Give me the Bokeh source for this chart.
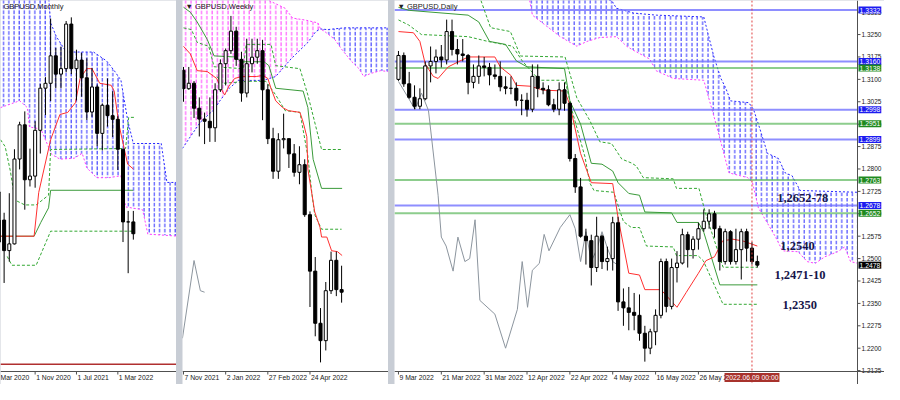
from bokeh.plotting import figure
from bokeh.models import Range1d, Label, Span
from bokeh.layouts import row
from bokeh.embed import file_html
from bokeh.resources import INLINE
from bokeh.core.properties import value

# ======================= DATA =======================
# ---- Monthly GBPUSD (index 0 = Mar 2020 ... 27 = Jun 2022)
m_open = [1.2820, 1.2410, 1.2590, 1.2340, 1.2395, 1.3090, 1.3370, 1.2920, 1.2950, 1.3325,
          1.3670, 1.3710, 1.3935, 1.3785, 1.3830, 1.4195, 1.3830, 1.3900, 1.3755, 1.3475,
          1.3680, 1.3300, 1.3530, 1.3445, 1.3415, 1.3170, 1.2575, 1.2575]
m_high = [1.3200, 1.2650, 1.2650, 1.2810, 1.3170, 1.3395, 1.3480, 1.3175, 1.3400, 1.3705,
          1.3760, 1.4240, 1.4000, 1.4010, 1.4220, 1.4250, 1.3985, 1.3960, 1.3915, 1.3835,
          1.3700, 1.3545, 1.3750, 1.3645, 1.3440, 1.3165, 1.2665, 1.2665]
m_low = [1.1410, 1.2165, 1.2075, 1.2250, 1.2390, 1.3005, 1.2675, 1.2865, 1.2855, 1.3135,
         1.3450, 1.3565, 1.3670, 1.3670, 1.3800, 1.3785, 1.3570, 1.3600, 1.3410, 1.3435,
         1.3195, 1.3160, 1.3355, 1.3270, 1.3000, 1.2410, 1.2155, 1.2430]
m_close = [1.2410, 1.2590, 1.2340, 1.2395, 1.3090, 1.3370, 1.2920, 1.2950, 1.3325, 1.3670,
           1.3710, 1.3935, 1.3785, 1.3830, 1.4195, 1.3830, 1.3900, 1.3755, 1.3475, 1.3680,
           1.3300, 1.3530, 1.3445, 1.3415, 1.3170, 1.2575, 1.2575, 1.2478]
m_ticks = [8, 16, 24]
m_tick_labels = ["1 Nov 2020", "1 Jul 2021", "1 Mar 2022"]
m_edge_label = "Mar 2020"
m_tenkan_x = [1.3, 7.8, 8.7, 11, 12.8, 14.3, 15.8, 16.7, 18, 19, 20.5, 22.7, 23.3, 24.2, 25.9, 27]
m_tenkan_y = [1.2458, 1.2458, 1.2817, 1.3248, 1.3455, 1.3471, 1.3551, 1.3750, 1.3830, 1.3830,
              1.3710, 1.3694, 1.3646, 1.3375, 1.3048, 1.3008]
m_kijun_x = [1.3, 7.8, 9.1, 10.6, 11, 25.2, 27]
m_kijun_y = [1.2458, 1.2458, 1.2571, 1.2690, 1.2834, 1.2834, 1.2834]
m_dash1_x = [1.3, 2.2, 3.2, 4.1, 6, 8.2, 10.6, 11, 25.5, 26.1, 27.3]
m_dash1_y = [1.3248, 1.3192, 1.2993, 1.2754, 1.2714, 1.2714, 1.2794, 1.3168, 1.3176, 1.3431, 1.3431]
m_dash2_x = [2.6, 3.5, 8.2, 11, 25.9, 27]
m_dash2_y = [1.2292, 1.2220, 1.2220, 1.2499, 1.2499, 1.2499]
m_spanA_x = [1.3, 10.6, 11, 12.1, 14, 19.3, 21.8, 23.3, 24.6, 25.9, 27, 32.4, 33.5, 35.35]
m_spanA_y = [1.4428, 1.4428, 1.4205, 1.4093, 1.3966, 1.3966, 1.3894, 1.3814, 1.3735, 1.3408,
             1.3217, 1.3217, 1.2898, 1.2898]
m_spanB_x = [1.3, 5, 6.5, 6.9, 9.1, 11.2, 12.8, 15.6, 17.1, 18, 19.9, 22.3, 24.6, 25.5, 28.8, 29.8, 35.35]
m_spanB_y = [1.3511, 1.3567, 1.3511, 1.3352, 1.3336, 1.3128, 1.3089, 1.3097, 1.3137, 1.3017,
             1.2937, 1.2937, 1.2953, 1.2698, 1.2674, 1.2475, 1.2459]
m_support = 1.1410

# ---- Weekly GBPUSD (index 0 = week of 7 Nov 2021 ... 30 = week of 5 Jun 2022)
w_open = [1.3500, 1.3415, 1.3440, 1.3325, 1.3275, 1.3265, 1.3235, 1.3410, 1.3530, 1.3590,
          1.3680, 1.3550, 1.3395, 1.3530, 1.3560, 1.3590, 1.3410, 1.3185, 1.3035, 1.3180,
          1.3185, 1.3115, 1.3030, 1.3065, 1.2835, 1.2575, 1.2335, 1.2255, 1.2485, 1.2625, 1.2490]
w_high = [1.3515, 1.3515, 1.3450, 1.3375, 1.3305, 1.3375, 1.3440, 1.3550, 1.3600, 1.3750,
          1.3700, 1.3585, 1.3645, 1.3645, 1.3645, 1.3640, 1.3435, 1.3235, 1.3210, 1.3300,
          1.3185, 1.3160, 1.3150, 1.3090, 1.2850, 1.2640, 1.2405, 1.2525, 1.2665, 1.2665, 1.2600]
w_low = [1.3355, 1.3410, 1.3280, 1.3195, 1.3160, 1.3170, 1.3170, 1.3400, 1.3430, 1.3575,
         1.3520, 1.3355, 1.3375, 1.3490, 1.3530, 1.3270, 1.3160, 1.3000, 1.3000, 1.3140,
         1.3050, 1.3010, 1.2975, 1.2825, 1.2410, 1.2275, 1.2155, 1.2210, 1.2470, 1.2460, 1.2430]
w_close = [1.3415, 1.3440, 1.3325, 1.3275, 1.3265, 1.3235, 1.3410, 1.3530, 1.3590, 1.3680,
           1.3550, 1.3395, 1.3530, 1.3560, 1.3590, 1.3410, 1.3185, 1.3035, 1.3180, 1.3185,
           1.3115, 1.3030, 1.3065, 1.2835, 1.2575, 1.2335, 1.2255, 1.2485, 1.2625, 1.2490, 1.2478]
w_ticks = [0, 8, 16, 24]
w_tick_labels = ["7 Nov 2021", "2 Jan 2022", "27 Feb 2022", "24 Apr 2022"]
w_tenkan_x = [0, 1.3, 2.6, 4.5, 6.3, 7.3, 7.8, 8.6, 9.7, 11, 13.8, 15.1, 16, 16.6, 17.5, 18.8,
              19.9, 22.1, 22.7, 23.4, 23.6, 24.4, 24.9, 25.9, 26.2, 27.2, 28.1, 29.2, 30.1]
w_tenkan_y = [1.3610, 1.3575, 1.3498, 1.3494, 1.3462, 1.3408, 1.3386, 1.3426, 1.3462, 1.3471,
              1.3471, 1.3476, 1.3462, 1.3417, 1.3359, 1.3328, 1.3314, 1.3306, 1.3261, 1.3194,
              1.3045, 1.2925, 1.2848, 1.2777, 1.2732, 1.2732, 1.2669, 1.2665, 1.2647]
w_kijun_x = [0, 1.3, 2.6, 4.5, 5.8, 9.7, 11, 15.3, 16.2, 17.5, 22.7, 23.6, 24.6, 26.2, 30.1]
w_kijun_y = [1.3790, 1.3767, 1.3722, 1.3642, 1.3566, 1.3561, 1.3539, 1.3539, 1.3521, 1.3417,
             1.3404, 1.3328, 1.3090, 1.2956, 1.2956]
w_dash1_x = [0, 1.5, 2.6, 4.8, 5.8, 11.3, 11.9, 16.6, 17.5, 22.1, 23.6, 26.2, 30.1]
w_dash1_y = [1.3695, 1.3687, 1.3628, 1.3610, 1.3516, 1.3507, 1.3619, 1.3619, 1.3521, 1.3507,
             1.3386, 1.3135, 1.3135]
w_dash2_x = [6.3, 7.6, 12.3, 15.6, 16.6, 17.5, 19.3, 22.1, 23.6, 24.4, 24.9, 26.2, 30]
w_dash2_y = [1.3471, 1.3440, 1.3449, 1.3449, 1.3417, 1.3386, 1.3314, 1.3306, 1.3104, 1.2925,
             1.2835, 1.2768, 1.2768]
w_chikou_x = [-0.2, 2, 3.2, 4]
w_chikou_y = [1.2266, 1.2624, 1.2485, 1.2478]
w_spanA_x = [-0.2, 1.3, 3.2, 5.8, 6.9, 8.7, 10.4, 15.1, 17.5, 20.4, 23.6, 25.1, 26.0, 27.3, 30.5, 38.9]
w_spanA_y = [1.3140, 1.3194, 1.3261, 1.3319, 1.3359, 1.3417, 1.3453, 1.3453, 1.3471, 1.3552,
             1.3628, 1.3678, 1.3690, 1.3687, 1.3695, 1.3695]
w_spanB_x = [-0.2, 16.0, 16.2, 19.3, 20.7, 23.1, 25.5, 26.0, 26.8, 28.7, 30, 31.8, 33.3, 34.2, 35.5, 37.4, 38.9]
w_spanB_y = [1.3850, 1.3850, 1.3821, 1.3785, 1.3740, 1.3731, 1.3718, 1.3690, 1.3678, 1.3642,
             1.3597, 1.3543, 1.3507, 1.3471, 1.3485, 1.3498, 1.3494]
w_cross_A = 12   # position in spanA where the two spans cross
w_cross_B = 7    # position in spanB where the two spans cross

# ---- Daily GBPUSD (index 0 = 9 Mar 2022 ... 67 = 10 Jun 2022)
d_open = [1.3100, 1.3180, 1.3085, 1.3040, 1.3010, 1.3035, 1.3145, 1.3160, 1.3175, 1.3165,
          1.3260, 1.3200, 1.3185, 1.3180, 1.3090, 1.3110, 1.3145, 1.3140, 1.3115, 1.3110,
          1.3075, 1.3070, 1.3070, 1.3030, 1.3030, 1.3000, 1.3110, 1.3070, 1.3065, 1.3015,
          1.3000, 1.3065, 1.3020, 1.2835, 1.2740, 1.2575, 1.2560, 1.2470, 1.2575, 1.2490,
          1.2500, 1.2620, 1.2355, 1.2335, 1.2320, 1.2310, 1.2250, 1.2200, 1.2255, 1.2310,
          1.2490, 1.2340, 1.2470, 1.2485, 1.2580, 1.2530, 1.2565, 1.2600, 1.2625, 1.2650,
          1.2600, 1.2490, 1.2590, 1.2490, 1.2530, 1.2590, 1.2535, 1.2490]
d_high = [1.3195, 1.3190, 1.3125, 1.3080, 1.3070, 1.3160, 1.3210, 1.3200, 1.3215, 1.3300,
          1.3300, 1.3235, 1.3235, 1.3185, 1.3150, 1.3180, 1.3175, 1.3155, 1.3150, 1.3160,
          1.3110, 1.3110, 1.3090, 1.3050, 1.3055, 1.3150, 1.3150, 1.3090, 1.3080, 1.3035,
          1.3090, 1.3090, 1.3025, 1.2850, 1.2770, 1.2600, 1.2580, 1.2640, 1.2580, 1.2540,
          1.2640, 1.2640, 1.2400, 1.2405, 1.2385, 1.2380, 1.2275, 1.2265, 1.2330, 1.2500,
          1.2500, 1.2500, 1.2525, 1.2600, 1.2590, 1.2575, 1.2620, 1.2665, 1.2665, 1.2660,
          1.2610, 1.2600, 1.2595, 1.2600, 1.2600, 1.2600, 1.2555, 1.2510]
d_low = [1.3095, 1.3075, 1.3035, 1.3000, 1.3000, 1.3030, 1.3090, 1.3120, 1.3140, 1.3150,
         1.3180, 1.3150, 1.3160, 1.3050, 1.3070, 1.3085, 1.3110, 1.3080, 1.3100, 1.3060,
         1.3050, 1.3050, 1.3010, 1.2980, 1.2975, 1.2990, 1.3040, 1.3050, 1.3010, 1.2990,
         1.2980, 1.2995, 1.2825, 1.2720, 1.2570, 1.2480, 1.2410, 1.2455, 1.2465, 1.2460,
         1.2460, 1.2325, 1.2275, 1.2260, 1.2260, 1.2225, 1.2155, 1.2180, 1.2210, 1.2300,
         1.2320, 1.2330, 1.2420, 1.2480, 1.2470, 1.2500, 1.2530, 1.2590, 1.2600, 1.2570,
         1.2460, 1.2480, 1.2480, 1.2480, 1.2430, 1.2490, 1.2480, 1.2470]
d_close = [1.3180, 1.3085, 1.3040, 1.3010, 1.3035, 1.3145, 1.3160, 1.3175, 1.3165, 1.3260,
           1.3200, 1.3185, 1.3180, 1.3090, 1.3110, 1.3145, 1.3140, 1.3115, 1.3110, 1.3075,
           1.3070, 1.3070, 1.3030, 1.3030, 1.3000, 1.3110, 1.3070, 1.3065, 1.3015, 1.3000,
           1.3065, 1.3020, 1.2835, 1.2740, 1.2575, 1.2560, 1.2470, 1.2575, 1.2490, 1.2500,
           1.2620, 1.2355, 1.2335, 1.2320, 1.2310, 1.2250, 1.2200, 1.2255, 1.2310, 1.2490,
           1.2340, 1.2470, 1.2485, 1.2580, 1.2530, 1.2565, 1.2600, 1.2625, 1.2650, 1.2600,
           1.2490, 1.2590, 1.2490, 1.2530, 1.2590, 1.2535, 1.2490, 1.2478]
d_ticks = [0, 8, 16, 24, 32, 40, 48, 56]
d_tick_labels = ["9 Mar 2022", "21 Mar 2022", "31 Mar 2022", "12 Apr 2022",
                 "22 Apr 2022", "4 May 2022", "16 May 2022", "26 May 2022"]
d_cursor = 66
d_cursor_label = "2022.06.09 00:00"
d_price_ticks = [1.2125, 1.2200, 1.2275, 1.2350, 1.2425, 1.2500, 1.2575, 1.2650, 1.2725,
                 1.2800, 1.2875, 1.2950, 1.3025, 1.3100, 1.3175, 1.3250, 1.3325]
d_tenkan_x = [0, 2.8, 4, 5, 6.5, 7.4, 9.3, 13, 18, 19, 21, 22, 24.6, 27, 31, 32, 34, 36, 40, 41,
              43, 45, 46, 49, 52, 53.7, 56, 57.4, 59, 60.5, 62.4, 64.3, 67]
d_tenkan_y = [1.3260, 1.3256, 1.3227, 1.3152, 1.3110, 1.3103, 1.3142, 1.3175, 1.3175, 1.3142,
              1.3113, 1.3080, 1.3077, 1.3064, 1.3061, 1.3015, 1.2852, 1.2754, 1.2751, 1.2637,
              1.2451, 1.2445, 1.2396, 1.2396, 1.2337, 1.2386, 1.2451, 1.2493, 1.2506, 1.2559,
              1.2565, 1.2559, 1.2542]
d_kijun_x = [0, 2, 13, 15, 17, 20, 22, 24, 31, 32, 34, 36, 38, 40, 41, 43, 45, 46, 51, 52, 56, 57, 60, 67]
d_kijun_y = [1.3341, 1.3331, 1.3315, 1.3292, 1.3227, 1.3217, 1.3162, 1.3142, 1.3136, 1.3028,
             1.2950, 1.2819, 1.2816, 1.2793, 1.2754, 1.2718, 1.2712, 1.2656, 1.2653, 1.2621,
             1.2621, 1.2588, 1.2412, 1.2412]
d_dash1_x = [15.4, 17.2, 20.9, 22.8, 31.1, 33.3, 35.7, 37.6, 39.8, 41.7, 43.5, 44.4, 45.7,
             51.3, 51.9, 56.1, 57.4, 59.8, 60.6, 67]
d_dash1_y = [1.3364, 1.3273, 1.3260, 1.3178, 1.3175, 1.3038, 1.2963, 1.2891, 1.2885, 1.2833,
             1.2820, 1.2810, 1.2771, 1.2767, 1.2735, 1.2735, 1.2647, 1.2516, 1.2471, 1.2471]
d_dash2_x = [0, 1.9, 4.3, 13, 16.7, 21.3, 23.1, 26.3, 31.1, 32.4, 34.8, 35.7, 36.5, 40.2, 42,
             43.5, 45, 46.3, 51.3, 51.9, 55.9, 56.9, 60.6, 67]
d_dash2_y = [1.3299, 1.3282, 1.3250, 1.3243, 1.3227, 1.3211, 1.3162, 1.3097, 1.3097, 1.2996,
             1.2842, 1.2754, 1.2728, 1.2722, 1.2624, 1.2604, 1.2604, 1.2542, 1.2539, 1.2510,
             1.2510, 1.2493, 1.2347, 1.2347]
d_chikou_x = [0, 1.85, 3.1, 4.3, 5.6, 7.4, 8, 8.9, 10.2, 11.1, 12.4, 13.3, 14.3, 15.2, 18, 20,
              22.2, 23.1, 24.1, 25, 26.3, 27.2, 28.1, 30.2, 32, 33, 34, 35, 36, 37, 38, 39, 40, 41]
d_chikou_y = [1.3093, 1.3038, 1.2999, 1.3054, 1.2996, 1.2712, 1.2572, 1.2542, 1.2458, 1.2572,
              1.2490, 1.2500, 1.2630, 1.2360, 1.2314, 1.2200, 1.2330, 1.2490, 1.2337, 1.2461,
              1.2484, 1.2581, 1.2526, 1.2604, 1.2647, 1.2600, 1.2490, 1.2590, 1.2490, 1.2530,
              1.2590, 1.2535, 1.2490, 1.2478]
d_spanA_x = [24.5, 39.8, 40.7, 43.9, 48.1, 57, 58.9, 60.2, 61.1, 62, 65.4, 66.3, 67.2, 68.9,
             70.9, 72.2, 73.5, 75, 85.7]
d_spanA_y = [1.3400, 1.3364, 1.3338, 1.3322, 1.3315, 1.3309, 1.3175, 1.3103, 1.3071, 1.3028,
             1.3022, 1.2999, 1.2950, 1.2852, 1.2836, 1.2787, 1.2777, 1.2728, 1.2722]
d_spanB_x = [24.5, 25, 30.2, 33.3, 35.2, 37.6, 40.7, 42.6, 43.5, 46.9, 48.1, 51.3, 57, 59.3,
             61.7, 65.2, 66.1, 67.2, 70.4, 71.7, 74.6, 76.3, 77.8, 79.6, 82, 83.3, 84.4, 85.7]
d_spanB_y = [1.3364, 1.3315, 1.3243, 1.3211, 1.3227, 1.3240, 1.3243, 1.3211, 1.3201, 1.3168,
             1.3129, 1.3103, 1.3097, 1.2950, 1.2787, 1.2771, 1.2754, 1.2670, 1.2572, 1.2526,
             1.2523, 1.2490, 1.2484, 1.2506, 1.2523, 1.2539, 1.2490, 1.2484]
d_levels_blue = [1.3332, 1.3160, 1.2998, 1.2899, 1.2678]
d_levels_green = [1.3138, 1.2951, 1.2763, 1.2652]
d_last_price = 1.2478
d_notes = ["1,2652-78", "1,2540", "1,2471-10", "1,2350"]
d_notes_x = [70.7, 71.3, 70.2, 71.7]
d_notes_y = [1.2702, 1.2542, 1.2445, 1.2343]

# ======================= STYLE / LAYOUT =======================
FONT = "Liberation Sans"
RED = "#ff3030"
KIJUN = "#3a9a3a"
DASH = "#33a833"
BLUE = "#2828ff"
PINK = "#ff3cff"
GRAY = "#8c959e"
AXIS = "#505050"
H = 384          # figure height (px)
PLOT_H = 371     # px from top to the bottom axis line


def make_panel(width, x_left, x_axis_pos, axis_px, y_top, y_axis):
    """Figure whose frame is the whole canvas; axes are drawn by hand inside it."""
    xpp = (x_axis_pos - x_left) / (width - axis_px)
    ypp = (y_top - y_axis) / PLOT_H
    xr = (x_left, x_left + width * xpp)
    yr = (y_axis - (H - PLOT_H) * ypp, y_top)
    p = figure(width=width, height=H, x_range=Range1d(*xr), y_range=Range1d(*yr),
               output_backend="svg", toolbar_location=None,
               x_axis_location=None, y_axis_location=None, min_border=0)
    p.grid.visible = False
    p.outline_line_color = None
    p.background_fill_color = "white"
    p.border_fill_color = "white"
    return p, xpp, ypp


def bottom_axis(p, y_axis, ypp, ticks, labels):
    n = len(ticks)
    p.add_layout(Span(location=y_axis, dimension="width", line_color=AXIS, line_width=1))
    p.segment(x0=ticks, x1=ticks, y0=[y_axis] * n, y1=[y_axis - 3 * ypp] * n,
              line_color=AXIS, line_width=1)
    p.text(x=ticks, y=[y_axis - 2 * ypp] * n, text=labels, x_offset=1,
           text_font=value(FONT), text_font_size=value("6.8px"), text_color="#202020",
           text_baseline=value("top"), text_align=value("left"))


def candles(p, o, h, l, c, w=0.58):
    x = list(range(len(o)))
    p.segment(x0=x, y0=l, x1=x, y1=h, line_color="black", line_width=1)
    up = [i for i in x if c[i] >= o[i]]
    dn = [i for i in x if c[i] < o[i]]
    p.vbar(x=up, bottom=[o[i] for i in up], top=[c[i] for i in up], width=w,
           fill_color="white", line_color="black", line_width=1)
    p.vbar(x=dn, bottom=[c[i] for i in dn], top=[o[i] for i in dn], width=w,
           fill_color="black", line_color="black", line_width=1)


def cloud(p, tx, ty, bx, by, color, scale):
    xs = list(tx) + list(bx)[::-1]
    ys = list(ty) + list(by)[::-1]
    p.patch(xs, ys, fill_color=None, line_color=None, hatch_pattern="vertical_dash",
            hatch_color=color, hatch_scale=scale, hatch_weight=1)


def ichimoku_lines(p, tenkan, kijun, dash1, dash2):
    p.line(dash1[0], dash1[1], line_color=DASH, line_width=1, line_dash="3 2")
    p.line(dash2[0], dash2[1], line_color=DASH, line_width=1, line_dash="3 2")
    p.line(kijun[0], kijun[1], line_color=KIJUN, line_width=1)
    p.line(tenkan[0], tenkan[1], line_color=RED, line_width=1)


def title(p, x, y, text):
    p.add_layout(Label(x=x, y=y, x_offset=3, y_offset=-1, text=text,
                       text_font=FONT, text_font_size="7.5px", text_color="#202020",
                       text_baseline="top", text_align="left"))


# ======================= MONTHLY =======================
m_top, m_axis = 1.4388, 1.1350
m_left = 1.3
fm, m_xpp, m_ypp = make_panel(176, m_left, 35.35, 0, m_top, m_axis)
cloud(fm, m_spanA_x, m_spanA_y, m_spanB_x, m_spanB_y, BLUE, 5.2)
fm.line(m_spanA_x, m_spanA_y, line_color=BLUE, line_dash="2 2", line_width=1)
fm.line(m_spanB_x, m_spanB_y, line_color=PINK, line_dash="2 2", line_width=1)
ichimoku_lines(fm, (m_tenkan_x, m_tenkan_y), (m_kijun_x, m_kijun_y),
               (m_dash1_x, m_dash1_y), (m_dash2_x, m_dash2_y))
fm.add_layout(Span(location=m_support, dimension="width", line_color="#b03030", line_width=1.5))
candles(fm, m_open, m_high, m_low, m_close)
bottom_axis(fm, m_axis, m_ypp, m_ticks, m_tick_labels)
fm.text(x=[m_left], y=[m_axis - 2 * m_ypp], text=[m_edge_label], x_offset=0,
        text_font=value(FONT), text_font_size=value("6.8px"), text_color="#202020",
        text_baseline=value("top"), text_align=value("left"))
title(fm, m_left, m_top, "GBPUSD,Monthly")

# ======================= WEEKLY =======================
w_top, w_axis = 1.3821, 1.2113
fw, w_xpp, w_ypp = make_panel(206, -0.19, 38.9, 0, w_top, w_axis)
cloud(fw, w_spanB_x[:w_cross_B + 1], w_spanB_y[:w_cross_B + 1],
      w_spanA_x[:w_cross_A + 1], w_spanA_y[:w_cross_A + 1], PINK, 5.3)
cloud(fw, w_spanA_x[w_cross_A:], w_spanA_y[w_cross_A:],
      w_spanB_x[w_cross_B:], w_spanB_y[w_cross_B:], BLUE, 5.3)
fw.line(w_spanA_x, w_spanA_y, line_color=BLUE, line_dash="2 2", line_width=1)
fw.line(w_spanB_x, w_spanB_y, line_color=PINK, line_dash="2 2", line_width=1)
fw.line(w_chikou_x, w_chikou_y, line_color=GRAY, line_width=1)
ichimoku_lines(fw, (w_tenkan_x, w_tenkan_y), (w_kijun_x, w_kijun_y),
               (w_dash1_x, w_dash1_y), (w_dash2_x, w_dash2_y))
candles(fw, w_open, w_high, w_low, w_close)
bottom_axis(fw, w_axis, w_ypp, w_ticks, w_tick_labels)
title(fw, -0.19, w_top, "\u25bc GBPUSD,Weekly")

# ======================= DAILY =======================
d_top, d_axis = 1.3364, 1.2122
d_left, d_right = -0.74, 85.7
fd, d_xpp, d_ypp = make_panel(490, d_left, d_right, 27, d_top, d_axis)

cloud(fd, d_spanA_x, d_spanA_y, d_spanB_x, d_spanB_y, BLUE, 5.35)
fd.line(d_spanA_x, d_spanA_y, line_color=BLUE, line_dash="2 2", line_width=1)
fd.line(d_spanB_x, d_spanB_y, line_color=PINK, line_dash="2 2", line_width=1)
nb, ng = len(d_levels_blue), len(d_levels_green)
fd.segment(x0=[d_left] * nb, x1=[d_right] * nb, y0=d_levels_blue, y1=d_levels_blue,
           line_color="#7272ff", line_width=2, line_alpha=0.8)
fd.segment(x0=[d_left] * ng, x1=[d_right] * ng, y0=d_levels_green, y1=d_levels_green,
           line_color="#5cb85c", line_width=2, line_alpha=0.7)
fd.line(d_chikou_x, d_chikou_y, line_color=GRAY, line_width=1)
ichimoku_lines(fd, (d_tenkan_x, d_tenkan_y), (d_kijun_x, d_kijun_y),
               (d_dash1_x, d_dash1_y), (d_dash2_x, d_dash2_y))
fd.add_layout(Span(location=d_cursor, dimension="height", line_color="#e04040",
                   line_width=1, line_dash="2 2"))
candles(fd, d_open, d_high, d_low, d_close)
title(fd, d_left, d_top, "\u25bc GBPUSD,Daily")

for t, x, y in zip(d_notes, d_notes_x, d_notes_y):
    fd.add_layout(Label(x=x, y=y, text=t, text_font="Liberation Serif",
                        text_font_style="bold", text_font_size="12.5px",
                        text_color="#16164a", text_baseline="middle", text_align="left"))

# axes drawn by hand: bottom dates, right price scale
bottom_axis(fd, d_axis, d_ypp, d_ticks, d_tick_labels)
fd.add_layout(Span(location=d_right, dimension="height", line_color=AXIS, line_width=1))
npt = len(d_price_ticks)
fd.segment(x0=[d_right] * npt, x1=[d_right + 3 * d_xpp] * npt, y0=d_price_ticks,
           y1=d_price_ticks, line_color=AXIS, line_width=1)
fd.text(x=[d_right] * npt, y=d_price_ticks, text=["%.4f" % t for t in d_price_ticks],
        x_offset=4, text_font=value(FONT), text_font_size=value("6.5px"), text_color="#202020",
        text_baseline=value("middle"), text_align=value("left"))


def price_box(lv, color):
    fd.add_layout(Label(x=d_right, y=lv, x_offset=1, text="%.4f" % lv, text_font=FONT,
                        text_font_size="6.8px", text_color="white",
                        background_fill_color=color, text_baseline="middle",
                        text_align="left", padding=1))


for lv in d_levels_blue:
    price_box(lv, "#1c1cf0")
for lv in d_levels_green:
    price_box(lv, "#1f8a1f")
price_box(d_last_price, "#000000")

fd.add_layout(Label(x=d_cursor, y=d_axis - 1.5 * d_ypp, text=d_cursor_label, text_font=FONT,
                    text_font_size="6.8px", text_color="white", background_fill_color="#a8322c",
                    text_baseline="top", text_align="center", padding=1))

layout = row(fm, fw, fd, spacing=6, styles={"background-color": "#c8cdd5"})
open("out.html", "w").write(file_html(layout, INLINE))
